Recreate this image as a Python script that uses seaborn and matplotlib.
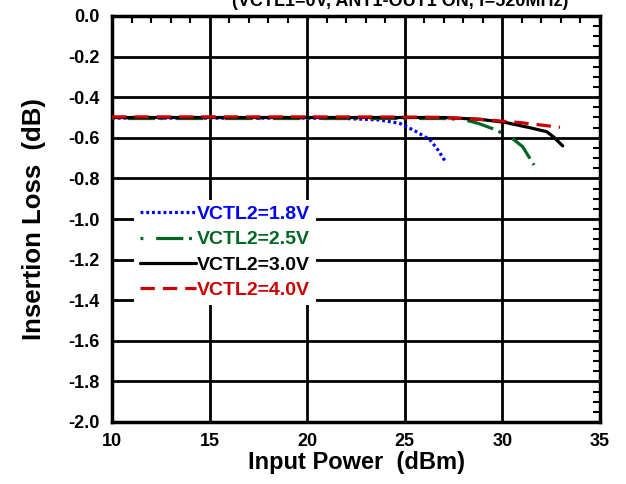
import matplotlib
matplotlib.use("Agg")
import matplotlib.pyplot as plt
from matplotlib.ticker import MultipleLocator
import seaborn as sns
import pandas as pd

# ---- data ----
x_18 = [10, 15, 20, 22, 23.7, 24.75, 25.6, 26.3, 26.7, 27.06]
y_18 = [-0.503, -0.503, -0.503, -0.505, -0.512, -0.529, -0.57, -0.611, -0.66, -0.714]

x_25 = [10, 15, 20, 25, 27, 28.0, 28.77, 29.5, 30.13, 30.6, 31.04, 31.3, 31.62]
y_25 = [-0.505, -0.505, -0.505, -0.505, -0.505, -0.51, -0.529, -0.555, -0.583, -0.61, -0.644, -0.685, -0.734]

x_30 = [10, 15, 20, 25, 27, 28.85, 30.13, 31.4, 32.27, 32.6, 33.09]
y_30 = [-0.50, -0.50, -0.50, -0.50, -0.50, -0.509, -0.524, -0.55, -0.57, -0.594, -0.64]

x_40 = [10, 15, 20, 25, 27, 28.85, 30.9, 32.95]
y_40 = [-0.497, -0.497, -0.497, -0.498, -0.500, -0.509, -0.525, -0.548]

labels = ["VCTL2=1.8V", "VCTL2=2.5V", "VCTL2=3.0V", "VCTL2=4.0V"]
colors = ["#0000ff", "#006622", "#000000", "#cc0000"]

sns.set_theme(style="white")
plt.rcParams["font.family"] = ["Liberation Sans", "DejaVu Sans"]
plt.rcParams["font.weight"] = "bold"
plt.rcParams["text.color"] = "black"
plt.rcParams["axes.labelcolor"] = "black"

fig = plt.figure(figsize=(6.26, 4.84), dpi=100)
ax = fig.add_axes([112/626, 62/484, 488/626, 406/484])

series = [(x_18, y_18), (x_25, y_25), (x_30, y_30), (x_40, y_40)]
styles = [(0, (0.9, 0.9)), (0, (0.9, 4.0, 8.5, 1.8)), "-", (0, (4.5, 2.5))]
for (xs, ys), lab, col, ls in zip(series, labels, colors, styles):
    df = pd.DataFrame({"x": xs, "y": ys})
    sns.lineplot(data=df, x="x", y="y", ax=ax, color=col, lw=2.3,
                 linestyle=ls, sort=False, label=lab, zorder=3)

ax.set_xlim(10, 35)
ax.set_ylim(-2.0, 0.0)
ax.xaxis.set_minor_locator(MultipleLocator(1))
ax.yaxis.set_minor_locator(MultipleLocator(0.05))
ax.set_xticks([10, 15, 20, 25, 30, 35])
ax.set_xticklabels(["10", "15", "20", "25", "30", "35"])
yt = [0.0, -0.2, -0.4, -0.6, -0.8, -1.0, -1.2, -1.4, -1.6, -1.8, -2.0]
ax.set_yticks(yt)
ax.set_yticklabels([f"{v:.1f}" if v != 0 else "0.0" for v in yt])

ax.grid(True, which="major", color="black", lw=2.0, zorder=1)
ax.tick_params(which="both", direction="in", top=True, right=True,
               labelsize=13, colors="black")
ax.tick_params(which="major", length=0)
ax.tick_params(axis="y", which="major", pad=9)
ax.tick_params(axis="x", which="major", pad=8)
ax.tick_params(which="minor", length=5, width=1.5)
for t in ax.get_xticklabels() + ax.get_yticklabels():
    t.set_fontweight("bold")
for s in ax.spines.values():
    s.set_linewidth(2.5)
    s.set_color("black")

ax.set_xlabel("Input Power  (dBm)", fontsize=17, fontweight="bold", labelpad=1)
ax.set_ylabel("Insertion Loss  (dB)", fontsize=18.5, fontweight="bold", labelpad=16)

leg = ax.legend(loc="upper left", bbox_to_anchor=(0.045, 0.548), frameon=True,
                fancybox=False, handlelength=2.9, handletextpad=0.05,
                borderpad=0.3, labelspacing=0.4, fontsize=14,
                borderaxespad=0)
leg.get_frame().set_facecolor("white")
leg.get_frame().set_edgecolor("none")
leg.get_frame().set_alpha(1)
leg.set_zorder(5)
for txt, col in zip(leg.get_texts(), colors):
    txt.set_color(col)
    txt.set_fontweight("bold")

fig.text(400/626, 1 - 6/484, "(VCTL1=0V, ANT1-OUT1 ON, f=520MHz)",
         ha="center", va="baseline", fontsize=13, fontweight="bold")

fig.savefig("out.png", dpi=100)
